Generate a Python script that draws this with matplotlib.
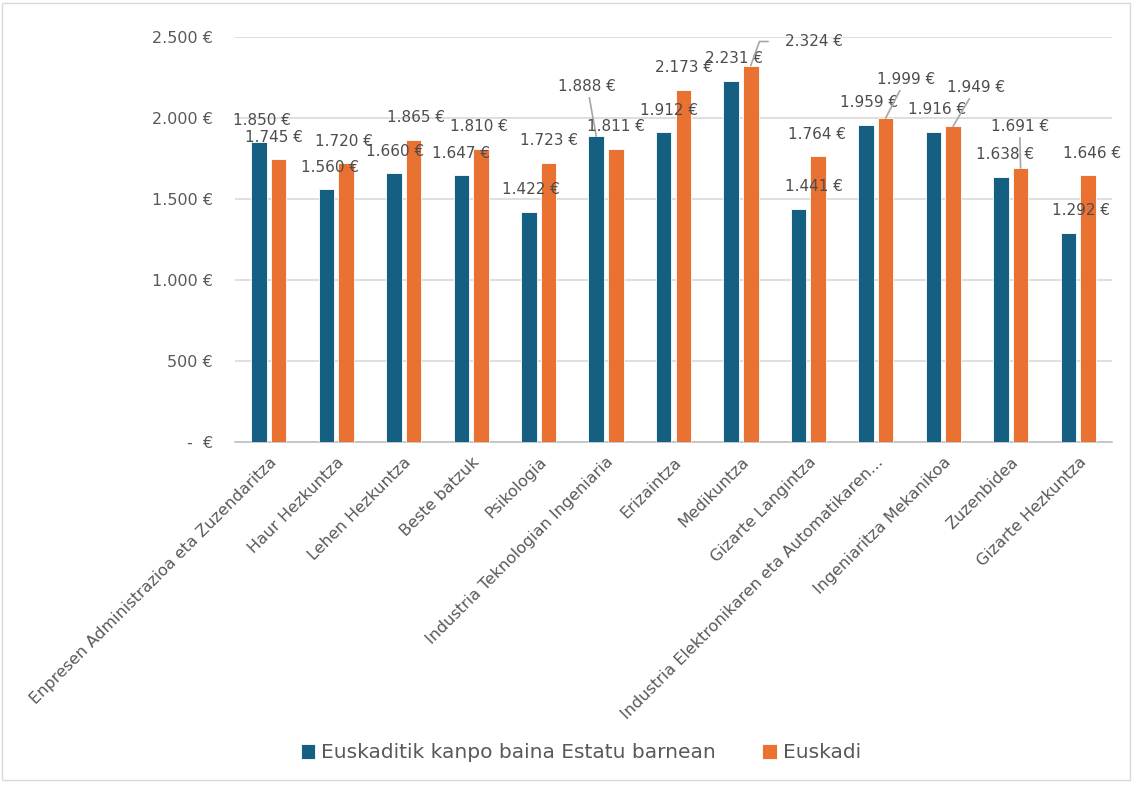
import matplotlib.pyplot as plt
from matplotlib.patches import Rectangle
import numpy as np

# Datuak
categories = ['Enpresen Administrazioa eta Zuzendaritza', 'Haur Hezkuntza', 'Lehen Hezkuntza',
              'Beste batzuk', 'Psikologia', 'Industria Teknologian Ingeniaria', 'Erizaintza',
              'Medikuntza', 'Gizarte Langintza', 'Industria Elektronikaren eta Automatikaren...',
              'Ingeniaritza Mekanikoa', 'Zuzenbidea', 'Gizarte Hezkuntza']
kanpo = [1850, 1560, 1660, 1647, 1422, 1888, 1912, 2231, 1441, 1959, 1916, 1638, 1292]
euskadi = [1745, 1720, 1865, 1810, 1723, 1811, 2173, 2324, 1764, 1999, 1949, 1691, 1646]
series_names = ['Euskaditik kanpo baina Estatu barnean', 'Euskadi']
yticks = [0, 500, 1000, 1500, 2000, 2500]

# etiketen desplazamendua (pixeletan) eta gida-lerroak
off_kanpo = [(3, 22), (4, 22), (1, 22), (0, 22), (2, 22), (-9, 50), (5, 22),
             (3, 22), (15, 22), (3, 22), (3, 22), (4, 22), (13, 22)]
off_eusk = [(-5, 22), (-2, 22), (3, 22), (-2, 22), (1, 22), (0, 22), (1, 22),
            (63, 24), (-1, 22), (20, 39), (23, 39), (-1, 42), (4, 22)]
lead_kanpo = [5]
lead_eusk = [7, 9, 10, 11]

blue = '#156082'
orange = '#E97132'
txt = '#595959'

plt.rcParams['font.family'] = ['DejaVu Sans']


def fmt(v):
    return f'{v:,}'.replace(',', '.') + ' €'


fig = plt.figure(figsize=(11.37, 7.85), dpi=100)
ax = fig.add_axes([235 / 1137, 1 - 442 / 785, (1112 - 235) / 1137, (442 - 37) / 785])

x = np.arange(len(categories))
w = 0.23
ax.bar(x - 0.145, kanpo, w, color=blue, edgecolor='white', linewidth=0.6, label=series_names[0], zorder=3)
ax.bar(x + 0.145, euskadi, w, color=orange, edgecolor='white', linewidth=0.6, label=series_names[1], zorder=3)

ax.set_xlim(-0.5, len(categories) - 0.5)
ax.set_ylim(0, 2500)
ax.set_yticks(yticks)
ax.set_yticklabels([fmt(v) if v else '-  €' for v in yticks])
ax.grid(axis='y', color='#D9D9D9', linewidth=1.2, zorder=0)
for s in ['top', 'right', 'left']:
    ax.spines[s].set_visible(False)
ax.spines['bottom'].set_color('#BFBFBF')
ax.spines['bottom'].set_linewidth(1.2)
ax.tick_params(axis='both', length=0, colors=txt, labelsize=11.5)
ax.tick_params(axis='y', pad=16)
ax.tick_params(axis='x', pad=9)
ax.set_xticks(x)
ax.set_xticklabels(categories, rotation=45, ha='right', rotation_mode='anchor')

for series, offs, leads, shift in [(kanpo, off_kanpo, lead_kanpo, -0.145),
                                   (euskadi, off_eusk, lead_eusk, 0.145)]:
    for i, v in enumerate(series):
        kw = {}
        if i in leads:
            if series is euskadi and i == 7:
                kw['arrowprops'] = dict(arrowstyle='-', color='#A6A6A6', lw=1.2, shrinkA=10, shrinkB=0,
                                        relpos=(0, 0.5),
                                        connectionstyle='angle,angleA=180,angleB=70,rad=0')
            else:
                kw['arrowprops'] = dict(arrowstyle='-', color='#A6A6A6', lw=1.2, shrinkA=1, shrinkB=0)
        ax.annotate(fmt(v), xy=(i + shift, v), xytext=offs[i], textcoords='offset pixels',
                    ha='center', va='center', fontsize=11, color='#4D4D4D', zorder=5, **kw)

fig.legend(loc='center', bbox_to_anchor=(581 / 1137, 1 - 753 / 785), ncol=2, frameon=False,
           fontsize=14.5, handlelength=0.7, handleheight=0.7, columnspacing=2.3,
           handletextpad=0.3, labelcolor=txt)

fig.patches.append(Rectangle((0.002, 0.006), 0.992, 0.99, transform=fig.transFigure,
                             fill=False, edgecolor='#D9D9D9', linewidth=1))

fig.savefig('out.png', dpi=100, facecolor='white')
